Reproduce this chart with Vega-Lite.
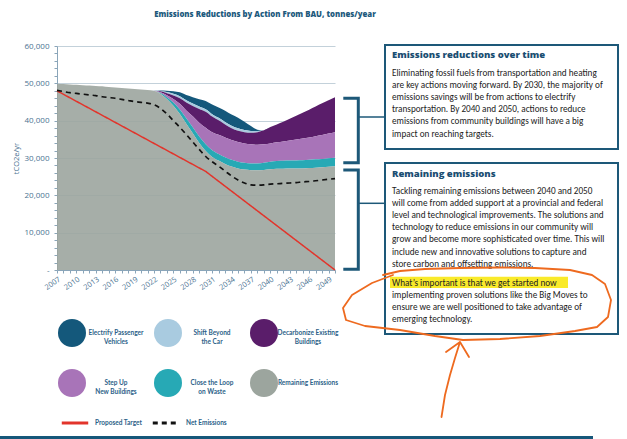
{
  "$schema": "https://vega.github.io/schema/vega-lite/v6.json",
  "width": 278,
  "height": 224,
  "autosize": {"type": "none"},
  "padding": {"left": 57, "top": 46, "right": 292, "bottom": 169},
  "background": "white",
  "config": {"view": {"stroke": null}, "font": "Open Sans"},
  "title": {
    "text": "Emissions Reductions by Action From BAU, tonnes/year",
    "frame": "group",
    "anchor": "middle",
    "dx": 69,
    "offset": 23,
    "font": "Open Sans",
    "fontSize": 7.8,
    "fontWeight": 800,
    "color": "#1d5a7d"
  },
  "datasets": {
    "emissions": [
      {"year": 2007, "s6_remaining": 49900, "s5_waste": 0, "s4_newbld": 0, "s3_existing": 0, "s2_shift": 0, "s1_ev": 0},
      {"year": 2008, "s6_remaining": 49800, "s5_waste": 0, "s4_newbld": 0, "s3_existing": 0, "s2_shift": 0, "s1_ev": 0},
      {"year": 2009, "s6_remaining": 49700, "s5_waste": 0, "s4_newbld": 0, "s3_existing": 0, "s2_shift": 0, "s1_ev": 0},
      {"year": 2010, "s6_remaining": 49600, "s5_waste": 0, "s4_newbld": 0, "s3_existing": 0, "s2_shift": 0, "s1_ev": 0},
      {"year": 2011, "s6_remaining": 49500, "s5_waste": 0, "s4_newbld": 0, "s3_existing": 0, "s2_shift": 0, "s1_ev": 0},
      {"year": 2012, "s6_remaining": 49400, "s5_waste": 0, "s4_newbld": 0, "s3_existing": 0, "s2_shift": 0, "s1_ev": 0},
      {"year": 2013, "s6_remaining": 49300, "s5_waste": 0, "s4_newbld": 0, "s3_existing": 0, "s2_shift": 0, "s1_ev": 0},
      {"year": 2014, "s6_remaining": 49200, "s5_waste": 0, "s4_newbld": 0, "s3_existing": 0, "s2_shift": 0, "s1_ev": 0},
      {"year": 2015, "s6_remaining": 49000, "s5_waste": 0, "s4_newbld": 0, "s3_existing": 0, "s2_shift": 0, "s1_ev": 0},
      {"year": 2016, "s6_remaining": 48900, "s5_waste": 0, "s4_newbld": 0, "s3_existing": 0, "s2_shift": 0, "s1_ev": 0},
      {"year": 2017, "s6_remaining": 48750, "s5_waste": 0, "s4_newbld": 0, "s3_existing": 0, "s2_shift": 0, "s1_ev": 0},
      {"year": 2018, "s6_remaining": 48600, "s5_waste": 0, "s4_newbld": 0, "s3_existing": 0, "s2_shift": 0, "s1_ev": 0},
      {"year": 2019, "s6_remaining": 48500, "s5_waste": 0, "s4_newbld": 0, "s3_existing": 0, "s2_shift": 0, "s1_ev": 0},
      {"year": 2020, "s6_remaining": 48350, "s5_waste": 0, "s4_newbld": 0, "s3_existing": 0, "s2_shift": 0, "s1_ev": 0},
      {"year": 2021, "s6_remaining": 48200, "s5_waste": 0, "s4_newbld": 0, "s3_existing": 0, "s2_shift": 0, "s1_ev": 0},
      {"year": 2022, "s6_remaining": 48000, "s5_waste": 0, "s4_newbld": 0, "s3_existing": 0, "s2_shift": 50, "s1_ev": 50},
      {"year": 2023, "s6_remaining": 47200, "s5_waste": 200, "s4_newbld": 200, "s3_existing": 250, "s2_shift": 100, "s1_ev": 100},
      {"year": 2024, "s6_remaining": 45800, "s5_waste": 500, "s4_newbld": 500, "s3_existing": 550, "s2_shift": 300, "s1_ev": 350},
      {"year": 2025, "s6_remaining": 44000, "s5_waste": 850, "s4_newbld": 950, "s3_existing": 950, "s2_shift": 450, "s1_ev": 700},
      {"year": 2026, "s6_remaining": 41800, "s5_waste": 1200, "s4_newbld": 1500, "s3_existing": 1500, "s2_shift": 550, "s1_ev": 1050},
      {"year": 2027, "s6_remaining": 39200, "s5_waste": 1450, "s4_newbld": 2100, "s3_existing": 2100, "s2_shift": 600, "s1_ev": 1400},
      {"year": 2028, "s6_remaining": 36600, "s5_waste": 1650, "s4_newbld": 2900, "s3_existing": 2800, "s2_shift": 650, "s1_ev": 1700},
      {"year": 2029, "s6_remaining": 34000, "s5_waste": 1750, "s4_newbld": 3700, "s3_existing": 3700, "s2_shift": 650, "s1_ev": 1950},
      {"year": 2030, "s6_remaining": 31900, "s5_waste": 1800, "s4_newbld": 4400, "s3_existing": 4300, "s2_shift": 650, "s1_ev": 2200},
      {"year": 2031, "s6_remaining": 30300, "s5_waste": 1800, "s4_newbld": 4800, "s3_existing": 4200, "s2_shift": 650, "s1_ev": 2550},
      {"year": 2032, "s6_remaining": 29300, "s5_waste": 1800, "s4_newbld": 5100, "s3_existing": 3900, "s2_shift": 650, "s1_ev": 2800},
      {"year": 2033, "s6_remaining": 28400, "s5_waste": 1800, "s4_newbld": 5300, "s3_existing": 3500, "s2_shift": 650, "s1_ev": 3000},
      {"year": 2034, "s6_remaining": 27700, "s5_waste": 1800, "s4_newbld": 5300, "s3_existing": 3200, "s2_shift": 650, "s1_ev": 3000},
      {"year": 2035, "s6_remaining": 27200, "s5_waste": 1800, "s4_newbld": 5300, "s3_existing": 3000, "s2_shift": 650, "s1_ev": 2850},
      {"year": 2036, "s6_remaining": 26900, "s5_waste": 1800, "s4_newbld": 5200, "s3_existing": 3000, "s2_shift": 600, "s1_ev": 2200},
      {"year": 2037, "s6_remaining": 26750, "s5_waste": 1800, "s4_newbld": 5100, "s3_existing": 3100, "s2_shift": 500, "s1_ev": 1300},
      {"year": 2038, "s6_remaining": 26700, "s5_waste": 1850, "s4_newbld": 5000, "s3_existing": 3350, "s2_shift": 300, "s1_ev": 400},
      {"year": 2039, "s6_remaining": 26800, "s5_waste": 1900, "s4_newbld": 4950, "s3_existing": 3750, "s2_shift": 0, "s1_ev": 0},
      {"year": 2040, "s6_remaining": 27000, "s5_waste": 2000, "s4_newbld": 4900, "s3_existing": 4400, "s2_shift": 0, "s1_ev": 0},
      {"year": 2041, "s6_remaining": 27100, "s5_waste": 2100, "s4_newbld": 5000, "s3_existing": 4800, "s2_shift": 0, "s1_ev": 0},
      {"year": 2042, "s6_remaining": 27150, "s5_waste": 2100, "s4_newbld": 5200, "s3_existing": 5250, "s2_shift": 0, "s1_ev": 0},
      {"year": 2043, "s6_remaining": 27200, "s5_waste": 2100, "s4_newbld": 5400, "s3_existing": 5800, "s2_shift": 0, "s1_ev": 0},
      {"year": 2044, "s6_remaining": 27200, "s5_waste": 2150, "s4_newbld": 5600, "s3_existing": 6350, "s2_shift": 0, "s1_ev": 0},
      {"year": 2045, "s6_remaining": 27200, "s5_waste": 2200, "s4_newbld": 5800, "s3_existing": 6900, "s2_shift": 0, "s1_ev": 0},
      {"year": 2046, "s6_remaining": 27300, "s5_waste": 2200, "s4_newbld": 6000, "s3_existing": 7450, "s2_shift": 0, "s1_ev": 0},
      {"year": 2047, "s6_remaining": 27400, "s5_waste": 2250, "s4_newbld": 6200, "s3_existing": 7950, "s2_shift": 0, "s1_ev": 0},
      {"year": 2048, "s6_remaining": 27500, "s5_waste": 2250, "s4_newbld": 6400, "s3_existing": 8500, "s2_shift": 0, "s1_ev": 0},
      {"year": 2049, "s6_remaining": 27650, "s5_waste": 2300, "s4_newbld": 6600, "s3_existing": 8950, "s2_shift": 0, "s1_ev": 0},
      {"year": 2050, "s6_remaining": 27800, "s5_waste": 2300, "s4_newbld": 6800, "s3_existing": 9400, "s2_shift": 0, "s1_ev": 0}
    ],
    "net": [
      {"year": 2007, "series": "Net Emissions", "value": 48100},
      {"year": 2008, "series": "Net Emissions", "value": 47800},
      {"year": 2009, "series": "Net Emissions", "value": 47500},
      {"year": 2010, "series": "Net Emissions", "value": 47300},
      {"year": 2011, "series": "Net Emissions", "value": 47100},
      {"year": 2012, "series": "Net Emissions", "value": 46900},
      {"year": 2013, "series": "Net Emissions", "value": 46700},
      {"year": 2014, "series": "Net Emissions", "value": 46400},
      {"year": 2015, "series": "Net Emissions", "value": 46200},
      {"year": 2016, "series": "Net Emissions", "value": 46000},
      {"year": 2017, "series": "Net Emissions", "value": 45700},
      {"year": 2018, "series": "Net Emissions", "value": 45400},
      {"year": 2019, "series": "Net Emissions", "value": 45100},
      {"year": 2020, "series": "Net Emissions", "value": 44900},
      {"year": 2021, "series": "Net Emissions", "value": 44700},
      {"year": 2022, "series": "Net Emissions", "value": 44300},
      {"year": 2023, "series": "Net Emissions", "value": 43300},
      {"year": 2024, "series": "Net Emissions", "value": 41800},
      {"year": 2025, "series": "Net Emissions", "value": 40000},
      {"year": 2026, "series": "Net Emissions", "value": 38200},
      {"year": 2027, "series": "Net Emissions", "value": 36300},
      {"year": 2028, "series": "Net Emissions", "value": 34300},
      {"year": 2029, "series": "Net Emissions", "value": 32300},
      {"year": 2030, "series": "Net Emissions", "value": 30400},
      {"year": 2031, "series": "Net Emissions", "value": 29000},
      {"year": 2032, "series": "Net Emissions", "value": 27800},
      {"year": 2033, "series": "Net Emissions", "value": 26500},
      {"year": 2034, "series": "Net Emissions", "value": 25200},
      {"year": 2035, "series": "Net Emissions", "value": 24100},
      {"year": 2036, "series": "Net Emissions", "value": 23300},
      {"year": 2037, "series": "Net Emissions", "value": 22800},
      {"year": 2038, "series": "Net Emissions", "value": 22700},
      {"year": 2039, "series": "Net Emissions", "value": 22800},
      {"year": 2040, "series": "Net Emissions", "value": 23000},
      {"year": 2041, "series": "Net Emissions", "value": 23100},
      {"year": 2042, "series": "Net Emissions", "value": 23200},
      {"year": 2043, "series": "Net Emissions", "value": 23300},
      {"year": 2044, "series": "Net Emissions", "value": 23400},
      {"year": 2045, "series": "Net Emissions", "value": 23600},
      {"year": 2046, "series": "Net Emissions", "value": 23700},
      {"year": 2047, "series": "Net Emissions", "value": 23900},
      {"year": 2048, "series": "Net Emissions", "value": 24100},
      {"year": 2049, "series": "Net Emissions", "value": 24300},
      {"year": 2050, "series": "Net Emissions", "value": 24500}
    ],
    "target": [
      {"year": 2007, "series": "Proposed Target", "value": 48000},
      {"year": 2030, "series": "Proposed Target", "value": 26400},
      {"year": 2050, "series": "Proposed Target", "value": 0}
    ]
  },
  "layer": [
    {
      "data": {"name": "emissions"},
      "transform": [
        {"fold": ["s1_ev", "s2_shift", "s3_existing", "s4_newbld", "s5_waste", "s6_remaining"], "as": ["series", "value"]}
      ],
      "mark": {"type": "area", "interpolate": "monotone"},
      "encoding": {
        "x": {
          "field": "year",
          "type": "quantitative",
          "scale": {"domain": [2007, 2050], "nice": false, "zero": false},
          "axis": {
            "title": null,
            "values": [2007, 2008, 2009, 2010, 2011, 2012, 2013, 2014, 2015, 2016, 2017, 2018, 2019, 2020, 2021, 2022, 2023, 2024, 2025, 2026, 2027, 2028, 2029, 2030, 2031, 2032, 2033, 2034, 2035, 2036, 2037, 2038, 2039, 2040, 2041, 2042, 2043, 2044, 2045, 2046, 2047, 2048, 2049, 2050],
            "tickCount": 100,
            "format": "d",
            "labelExpr": "(datum.value - 2007) % 3 === 0 ? datum.label : ''",
            "labelOverlap": false,
            "labelAngle": -35,
            "labelFont": "Open Sans",
            "labelFontSize": 7.5,
            "labelColor": "#4a7392",
            "labelPadding": 2,
            "tickSize": 3,
            "tickColor": "#8aa5b9",
            "domainColor": "#8aa5b9",
            "grid": false
          }
        },
        "y": {
          "field": "value",
          "type": "quantitative",
          "stack": "zero",
          "scale": {"domain": [0, 60000], "nice": false},
          "axis": {
            "title": "tCO2e/yr",
            "titleFont": "Open Sans",
            "titleFontSize": 7.5,
            "titleFontWeight": "normal",
            "titleColor": "#4a7392",
            "titlePadding": 4,
            "values": [0, 2000, 4000, 6000, 8000, 10000, 12000, 14000, 16000, 18000, 20000, 22000, 24000, 26000, 28000, 30000, 32000, 34000, 36000, 38000, 40000, 42000, 44000, 46000, 48000, 50000, 52000, 54000, 56000, 58000, 60000],
            "tickCount": 100,
            "format": ",d",
            "labelExpr": "datum.value === 0 ? '-' : datum.value % 10000 === 0 ? datum.label : ''",
            "labelOverlap": false,
            "labelFont": "Open Sans",
            "labelFontSize": 8,
            "labelColor": "#4a7392",
            "labelPadding": 5,
            "tickSize": 3,
            "tickColor": "#8aa5b9",
            "domainColor": "#8aa5b9",
            "grid": true,
            "gridColor": "#c3d1da",
            "gridOpacity": {"condition": {"test": "datum.value % 10000 === 0", "value": 1}, "value": 0}
          }
        },
        "color": {
          "field": "series",
          "type": "nominal",
          "scale": {
            "domain": ["s1_ev", "s2_shift", "s3_existing", "s4_newbld", "s5_waste", "s6_remaining"],
            "range": ["#14587b", "#a9cbe0", "#5a1d6a", "#a874b8", "#27a9b5", "#9ca59e"]
          },
          "legend": {
            "orient": "none",
            "legendX": 1,
            "legendY": 273,
            "direction": "horizontal",
            "columns": 3,
            "gridAlign": "all",
            "title": null,
            "padding": 0,
            "symbolType": "circle",
            "symbolSize": 784,
            "symbolStrokeWidth": 0,
            "symbolOpacity": 1,
            "labelAlign": "center",
            "labelBaseline": "middle",
            "labelOffset": 30,
            "labelFont": "Lato",
            "labelFontSize": 6.5,
            "labelFontWeight": "bold",
            "labelColor": "#2c5f88",
            "labelLimit": 0,
            "columnPadding": 7,
            "rowPadding": 22,
            "labelExpr": "datum.value == 's1_ev' ? ['Electrify Passenger', 'Vehicles'] : datum.value == 's2_shift' ? ['Shift Beyond', 'the Car'] : datum.value == 's3_existing' ? ['Decarbonize Existing', 'Buildings'] : datum.value == 's4_newbld' ? ['Step Up', 'New Buildings'] : datum.value == 's5_waste' ? ['Close the Loop', 'on Waste'] : 'Remaining Emissions'"
          }
        },
        "fillOpacity": {"condition": {"test": "datum.series === 's6_remaining'", "value": 0.9}, "value": 1}
      }
    },
    {
      "data": {"name": "target"},
      "mark": {"type": "line", "strokeWidth": 1.5},
      "encoding": {
        "x": {"field": "year", "type": "quantitative"},
        "y": {"field": "value", "type": "quantitative"},
        "stroke": {
          "field": "series",
          "type": "nominal",
          "scale": {"domain": ["Proposed Target", "Net Emissions"], "range": ["#e2342b", "#111111"]},
          "legend": {
            "orient": "none",
            "legendX": 3,
            "legendY": 362,
            "direction": "horizontal",
            "title": null,
            "padding": 0,
            "symbolType": "stroke",
            "symbolSize": 700,
            "symbolStrokeWidth": 3,
            "labelOffset": 5,
            "labelFont": "Lato",
            "labelFontSize": 6.5,
            "labelFontWeight": "bold",
            "labelColor": "#2c5f88",
            "labelLimit": 0,
            "columnPadding": 3
          }
        },
        "strokeDash": {
          "field": "series",
          "type": "nominal",
          "scale": {"domain": ["Proposed Target", "Net Emissions"], "range": [[1, 0], [5, 4]]}
        }
      }
    },
    {
      "data": {"name": "net"},
      "mark": {"type": "line", "strokeWidth": 1.7, "interpolate": "monotone"},
      "encoding": {
        "x": {"field": "year", "type": "quantitative"},
        "y": {"field": "value", "type": "quantitative"},
        "stroke": {"field": "series", "type": "nominal"},
        "strokeDash": {"field": "series", "type": "nominal"}
      }
    },
    {
      "data": {"values": [{}]},
      "mark": {"type": "rect", "fill": "white", "stroke": "#1d5878", "strokeWidth": 2},
      "encoding": {"x": {"value": 328}, "x2": {"value": 561}, "y": {"value": -1}, "y2": {"value": 103}}
    },
    {
      "data": {"values": [{}]},
      "mark": {"type": "rect", "fill": "white", "stroke": "#1d5878", "strokeWidth": 2},
      "encoding": {"x": {"value": 328}, "x2": {"value": 561}, "y": {"value": 117}, "y2": {"value": 288}}
    },
    {
      "data": {"values": [{}]},
      "mark": {"type": "rect", "fill": "#f9ea2a"},
      "encoding": {"x": {"value": 333}, "x2": {"value": 511}, "y": {"value": 230.7}, "y2": {"value": 242}}
    },
    {
      "data": {"values": [{}]},
      "mark": {"type": "text", "text": "Emissions reductions over time", "align": "left", "baseline": "alphabetic", "font": "Open Sans", "fontSize": 9.5, "fontWeight": 800, "color": "#1a4e72"},
      "encoding": {"x": {"value": 335}, "y": {"value": 12}}
    },
    {
      "data": {"values": [{}]},
      "mark": {
        "type": "text",
        "text": [
          "Eliminating fossil fuels from transportation and heating",
          "are key actions moving forward. By 2030, the majority of",
          "emissions savings will be from actions to electrify",
          "transportation. By 2040 and 2050, actions to reduce",
          "emissions from community buildings will have a big",
          "impact on reaching targets."
        ],
        "align": "left",
        "baseline": "alphabetic",
        "lineHeight": 12.2,
        "font": "Carlito, Lato",
        "fontSize": 9.2,
        "color": "#222222"
      },
      "encoding": {"x": {"value": 335}, "y": {"value": 29.7}}
    },
    {
      "data": {"values": [{}]},
      "mark": {"type": "text", "text": "Remaining emissions", "align": "left", "baseline": "alphabetic", "font": "Open Sans", "fontSize": 9.5, "fontWeight": 800, "color": "#1a4e72"},
      "encoding": {"x": {"value": 335}, "y": {"value": 130.6}}
    },
    {
      "data": {"values": [{}]},
      "mark": {
        "type": "text",
        "text": [
          "Tackling remaining emissions between 2040 and 2050",
          "will come from added support at a provincial and federal",
          "level and technological improvements. The solutions and",
          "technology to reduce emissions in our community will",
          "grow and become more sophisticated over time. This will",
          "include new and innovative solutions to capture and",
          "store carbon and offsetting emissions."
        ],
        "align": "left",
        "baseline": "alphabetic",
        "lineHeight": 12.2,
        "font": "Carlito, Lato",
        "fontSize": 9.2,
        "color": "#222222"
      },
      "encoding": {"x": {"value": 335}, "y": {"value": 147.7}}
    },
    {
      "data": {"values": [{}]},
      "mark": {
        "type": "text",
        "text": [
          "What’s important is that we get started now",
          "implementing proven solutions like the Big Moves to",
          "ensure we are well positioned to take advantage of",
          "emerging technology."
        ],
        "align": "left",
        "baseline": "alphabetic",
        "lineHeight": 12.2,
        "font": "Carlito, Lato",
        "fontSize": 9.2,
        "color": "#222222"
      },
      "encoding": {"x": {"value": 335}, "y": {"value": 239.7}}
    },
    {
      "data": {"values": [{}]},
      "mark": {"type": "point", "shape": "M0,0H15V64.4H0", "size": 4, "filled": false, "opacity": 1, "stroke": "#1d5878", "strokeWidth": 3, "strokeCap": "butt", "strokeJoin": "miter"},
      "encoding": {"x": {"value": 286.3}, "y": {"value": 52.3}}
    },
    {
      "data": {"values": [{}]},
      "mark": {"type": "point", "shape": "M0,0H15V99.3H0", "size": 4, "filled": false, "opacity": 1, "stroke": "#1d5878", "strokeWidth": 3, "strokeCap": "butt", "strokeJoin": "miter"},
      "encoding": {"x": {"value": 286.3}, "y": {"value": 124}}
    },
    {
      "data": {"values": [{}]},
      "mark": {"type": "rule", "color": "#1d5878", "strokeWidth": 1.5},
      "encoding": {"x": {"value": 301}, "x2": {"value": 328}, "y": {"value": 71}, "y2": {"value": 71}}
    },
    {
      "data": {"values": [{}]},
      "mark": {"type": "rule", "color": "#1d5878", "strokeWidth": 1.5},
      "encoding": {"x": {"value": 301}, "x2": {"value": 328}, "y": {"value": 157.3}, "y2": {"value": 157.3}}
    },
    {
      "data": {"values": [{}]},
      "mark": {
        "type": "point",
        "shape": "M50,8L29,16L9,28L0,41L3,53L22,59L57,63L92,69L120,73L157,72L197,69L232,64L254,60L265,50L268,33L262,17L249,8L227,3L192,1L157,0.5L117,1L82,2L57,4L40,8",
        "size": 4,
        "filled": false,
        "opacity": 1,
        "stroke": "#ee6a1f",
        "strokeWidth": 1.8,
        "strokeJoin": "round",
        "strokeCap": "round"
      },
      "encoding": {"x": {"value": 286}, "y": {"value": 221}}
    },
    {
      "data": {"values": [{}]},
      "mark": {
        "type": "point",
        "shape": "M0,0L3.5,-22L8.5,-42L13.5,-59L18.5,-75M4.5,-65L18.5,-75L27.5,-60",
        "size": 4,
        "filled": false,
        "opacity": 1,
        "stroke": "#ee6a1f",
        "strokeWidth": 1.8,
        "strokeJoin": "round",
        "strokeCap": "round"
      },
      "encoding": {"x": {"value": 384.5}, "y": {"value": 371}}
    },
    {
      "data": {"values": [{}]},
      "mark": {"type": "rule", "color": "#15577a", "strokeWidth": 3},
      "encoding": {"x": {"value": -57}, "x2": {"value": 536}, "y": {"value": 391.5}, "y2": {"value": 391.5}}
    }
  ]
}
